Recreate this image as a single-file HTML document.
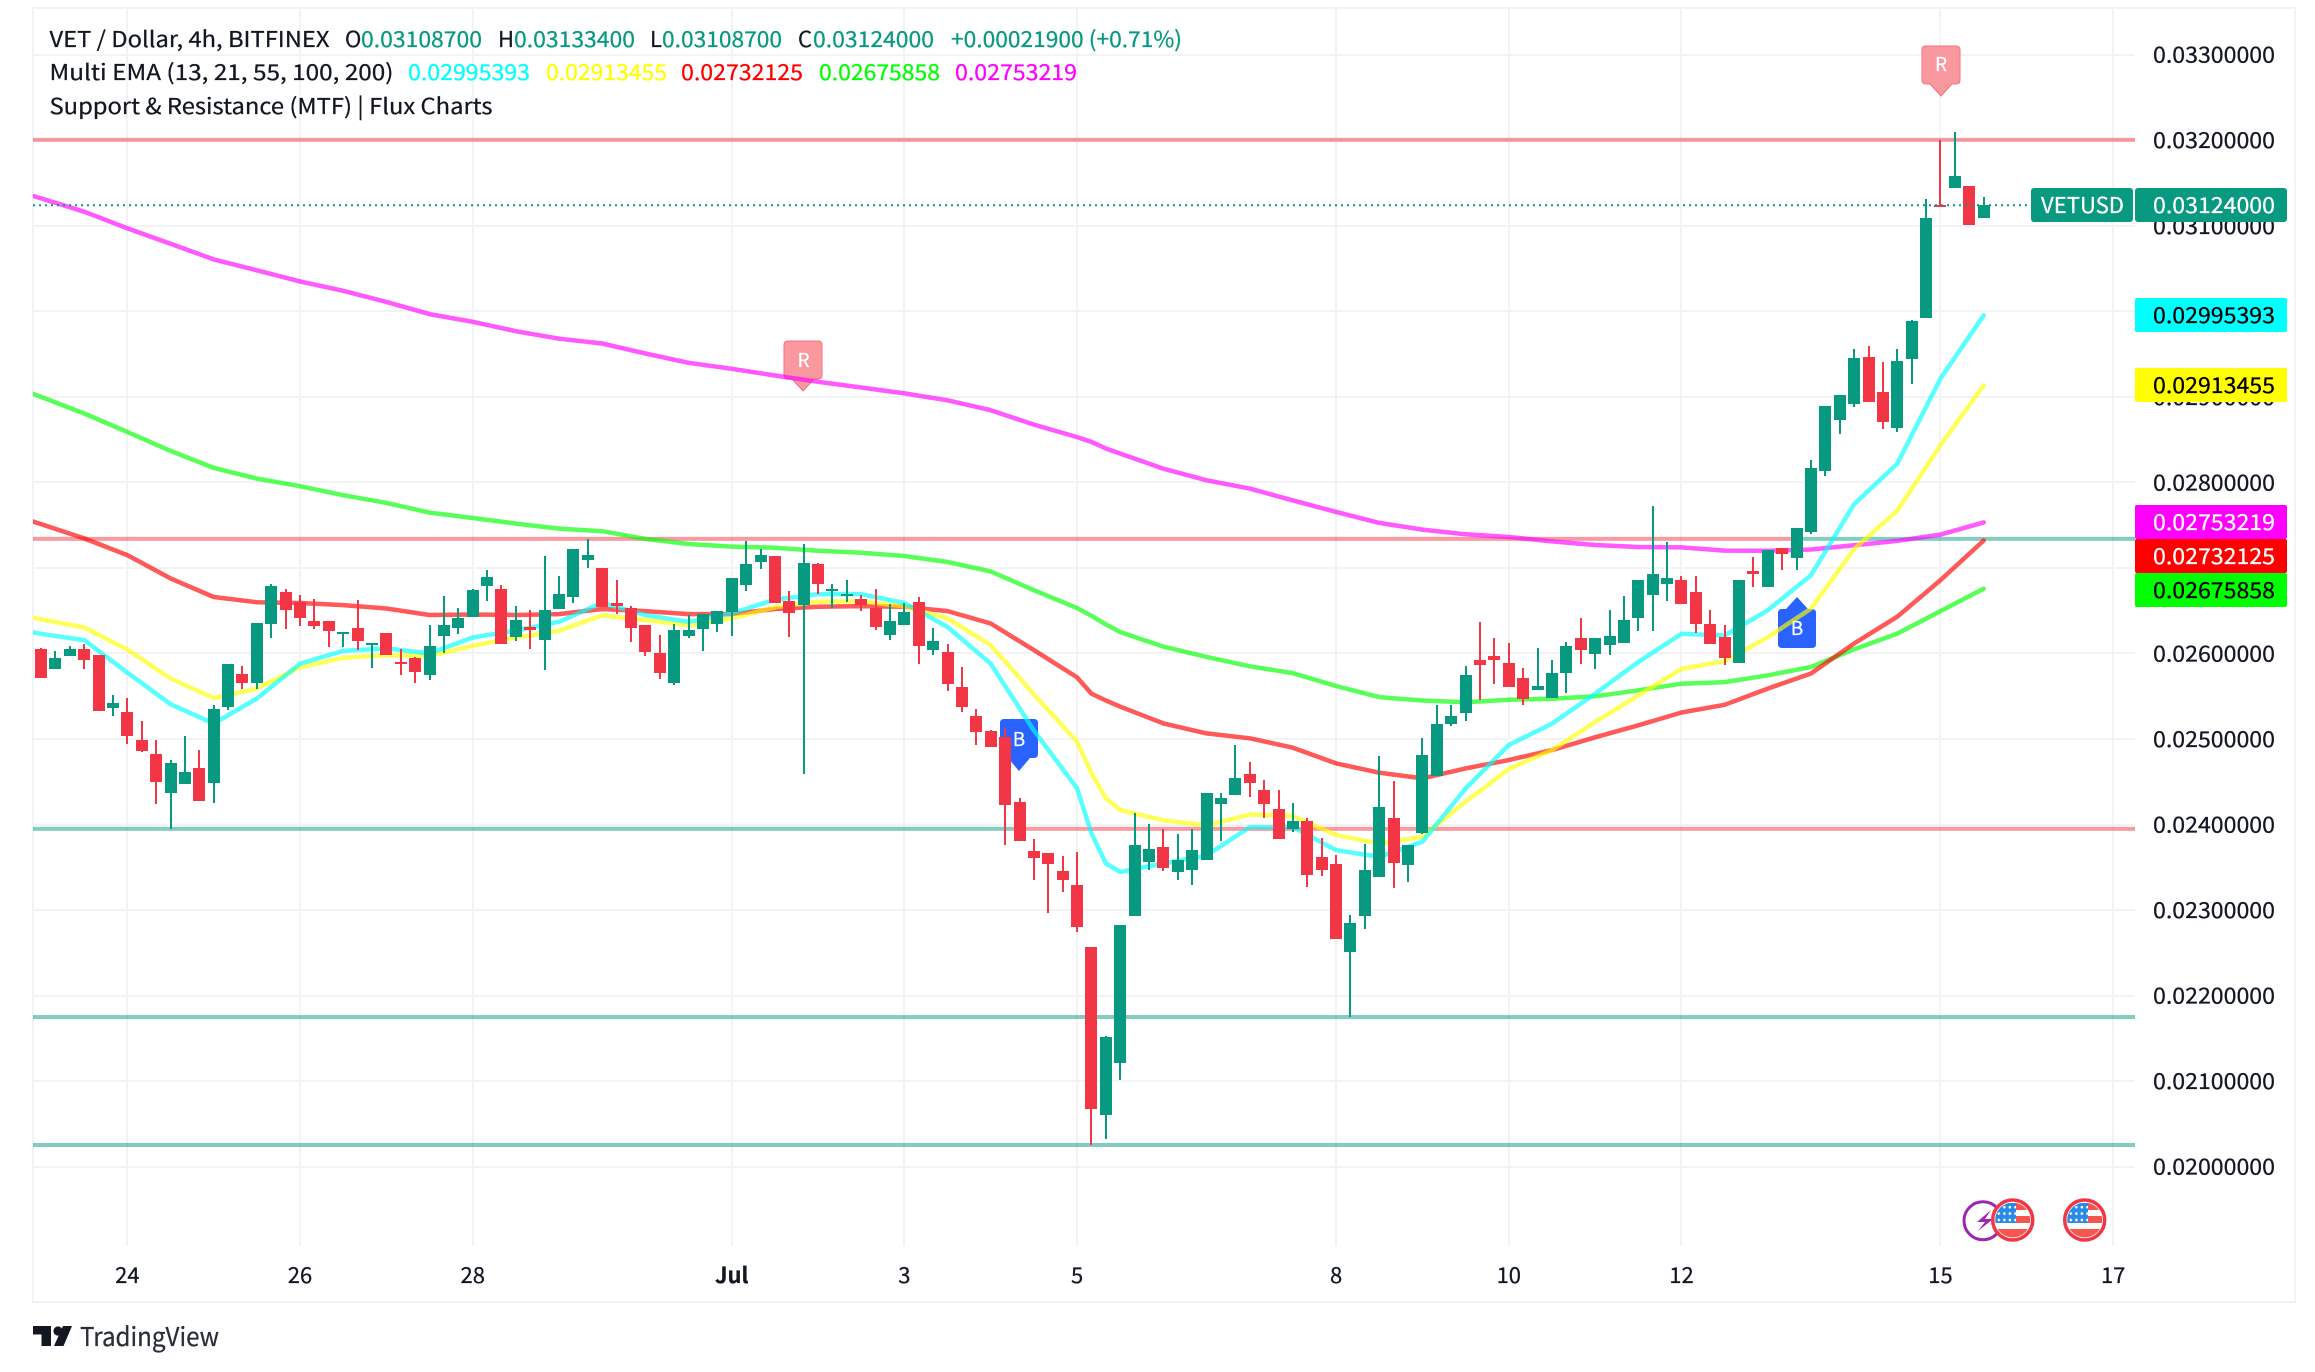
<!DOCTYPE html>
<html lang="en">
<head>
<meta charset="utf-8">
<title>VET / Dollar chart</title>
<style>
html,body{margin:0;padding:0;background:#fff;width:2315px;height:1372px;overflow:hidden}
svg{display:block}
text{font-family:"Noto Sans CJK JP","DejaVu Sans","Liberation Sans",sans-serif;font-size:22px;fill:#131722;stroke-width:.25px}
.g{fill:#089981}
</style>
</head>
<body>
<svg id="chart" xmlns="http://www.w3.org/2000/svg" width="2315" height="1372" viewBox="0 0 2315 1372">
  <rect x="33" y="8" width="2262" height="1294" fill="#fff" stroke="#f0f3fa" stroke-width="2"/>
  <g id="grid"></g>
  <g id="levels"></g>
  <g id="markers">
    <g>
      <path d="M788 341h30q4 0 4 4v30q0 4-4 4h-4l-11 12-11-12h-4q-4 0-4-4v-30q0-4 4-4z" fill="#f9989f" stroke="#f4727c" stroke-width="1"/>
      <text x="803.5" y="367" text-anchor="middle" style="fill:#fff;font-size:19px">R</text>
    </g>
    <g>
      <path d="M1926 46h30q4 0 4 4v30q0 4-4 4h-4l-11 12-11-12h-4q-4 0-4-4v-30q0-4 4-4z" fill="#f9989f" stroke="#f4727c" stroke-width="1"/>
      <text x="1941" y="71" text-anchor="middle" style="fill:#fff;font-size:19px">R</text>
    </g>
    <g>
      <path d="M1004 719h30q4 0 4 4v31q0 4-4 4h-4l-11 13-11-13h-4q-4 0-4-4v-31q0-4 4-4z" fill="#2962ff"/>
      <text x="1019" y="746" text-anchor="middle" style="fill:#fff;font-size:19px">B</text>
    </g>
    <g>
      <path d="M1797 597l11 12h4q4 0 4 4v31q0 4-4 4h-30q-4 0-4-4v-31q0-4 4-4h4z" fill="#2962ff"/>
      <text x="1797" y="635" text-anchor="middle" style="fill:#fff;font-size:19px">B</text>
    </g>
  </g>
  <g id="emas"></g>
  <g id="candles"></g>
  <line id="last-line" x1="33" x2="2031" stroke="#089981" stroke-width="2" stroke-dasharray="2 4"/>
  <g id="price-axis"></g>
  <g id="time-axis"></g>

  <g><rect x="2135" y="298" width="152" height="34" rx="2" fill="#00ffff"/><text x="2153" y="323" textLength="122" lengthAdjust="spacingAndGlyphs" style="fill:#000">0.02995393</text></g>
  <g><rect x="2135" y="368" width="152" height="34" rx="2" fill="#ffff00"/><text x="2153" y="393" textLength="122" lengthAdjust="spacingAndGlyphs" style="fill:#000">0.02913455</text></g>
  <g><rect x="2135" y="505" width="152" height="34" rx="2" fill="#ff00ff"/><text x="2153" y="530" textLength="122" lengthAdjust="spacingAndGlyphs" style="fill:#fff">0.02753219</text></g>
  <g><rect x="2135" y="539" width="152" height="34" rx="2" fill="#ff0000"/><text x="2153" y="564" textLength="122" lengthAdjust="spacingAndGlyphs" style="fill:#fff">0.02732125</text></g>
  <g><rect x="2135" y="573" width="152" height="34" rx="2" fill="#00ff00"/><text x="2153" y="598" textLength="122" lengthAdjust="spacingAndGlyphs" style="fill:#000">0.02675858</text></g>
  <g><rect x="2031" y="188" width="102" height="34" rx="3" fill="#089981"/><text x="2041" y="213" textLength="83" lengthAdjust="spacingAndGlyphs" style="fill:#fff">VETUSD</text></g>
  <g><rect x="2135" y="188" width="152" height="34" rx="3" fill="#089981"/><text x="2153" y="213" textLength="122" lengthAdjust="spacingAndGlyphs" style="fill:#fff">0.03124000</text></g>

  <g>
    <text x="49.5" y="47" textLength="280" lengthAdjust="spacingAndGlyphs">VET / Dollar, 4h, BITFINEX</text>
    <text x="345" y="47">O</text>
    <text class="g" x="361" y="47" textLength="121" lengthAdjust="spacingAndGlyphs">0.03108700</text>
    <text x="498" y="47">H</text>
    <text class="g" x="514" y="47" textLength="121" lengthAdjust="spacingAndGlyphs">0.03133400</text>
    <text x="650" y="47">L</text>
    <text class="g" x="662" y="47" textLength="120" lengthAdjust="spacingAndGlyphs">0.03108700</text>
    <text x="798" y="47">C</text>
    <text class="g" x="813" y="47" textLength="121" lengthAdjust="spacingAndGlyphs">0.03124000</text>
    <text class="g" x="951" y="47" textLength="231" lengthAdjust="spacingAndGlyphs">+0.00021900 (+0.71%)</text>
    <text x="49.5" y="80" textLength="344" lengthAdjust="spacingAndGlyphs">Multi EMA (13, 21, 55, 100, 200)</text>
    <text x="408" y="80" textLength="122" lengthAdjust="spacingAndGlyphs" style="fill:#00ffff">0.02995393</text>
    <text x="546" y="80" textLength="121" lengthAdjust="spacingAndGlyphs" style="fill:#ffff00">0.02913455</text>
    <text x="681" y="80" textLength="122" lengthAdjust="spacingAndGlyphs" style="fill:#ff0000">0.02732125</text>
    <text x="819" y="80" textLength="121" lengthAdjust="spacingAndGlyphs" style="fill:#00ff00">0.02675858</text>
    <text x="955" y="80" textLength="122" lengthAdjust="spacingAndGlyphs" style="fill:#ff00ff">0.02753219</text>
    <text x="49.5" y="114" textLength="443" lengthAdjust="spacingAndGlyphs">Support &amp; Resistance (MTF) | Flux Charts</text>
  </g>

  <defs>
    <clipPath id="flag-a"><circle cx="2012.7" cy="1220" r="17.5"/></clipPath>
    <clipPath id="flag-b"><circle cx="2084.7" cy="1220" r="17.5"/></clipPath>
    <pattern id="flag-stars" patternUnits="userSpaceOnUse" x="1996" y="1204" width="5.538" height="6.4">
      <circle cx="2.8" cy="3.2" r="1.3" fill="#fff"/>
    </pattern>
  </defs>
  <g>
    <circle cx="1983" cy="1220.7" r="19" fill="#fff" stroke="#9c27b0" stroke-width="3"/>
    <path d="M1991 1210l-14 12h8l-7 9 15-12h-8z" fill="#9c27b0"/>
  </g>
  <g>
    <circle cx="2012.7" cy="1220" r="20" fill="#fff" stroke="#f23645" stroke-width="3.5"/>
    <g clip-path="url(#flag-a)">
      <rect x="2015" y="1202" width="16" height="8" fill="#f4574f"/>
      <rect x="2015" y="1216" width="16" height="7" fill="#f4574f"/>
      <rect x="1995" y="1229" width="36" height="9" fill="#f4574f"/>
      <rect x="1995" y="1203" width="21" height="20" fill="#2a8ae8"/>
      <rect x="1995" y="1203" width="21" height="20" fill="url(#flag-stars)"/>
    </g>
  </g>
  <g>
    <circle cx="2084.7" cy="1220" r="20" fill="#fff" stroke="#f23645" stroke-width="3.5"/>
    <g clip-path="url(#flag-b)">
      <rect x="2087" y="1202" width="16" height="8" fill="#f4574f"/>
      <rect x="2087" y="1216" width="16" height="7" fill="#f4574f"/>
      <rect x="2067" y="1229" width="36" height="9" fill="#f4574f"/>
      <rect x="2067" y="1203" width="21" height="20" fill="#2a8ae8"/>
      <rect x="2067" y="1203" width="21" height="20" fill="url(#flag-stars)"/>
    </g>
  </g>

  <g>
    <path d="M33 1326h18v20h-9.5v-11.5H33z" fill="#131722"/>
    <circle cx="58" cy="1331" r="4.6" fill="#131722"/>
    <path d="M63 1326h9l-8.5 20H54z" fill="#131722"/>
    <text x="80" y="1346" textLength="139" lengthAdjust="spacingAndGlyphs" style="font-size:26px;fill:#2a2e39">TradingView</text>
  </g>
</svg>

<script>
// All prices below are in units of 0.00001 (2605 = 0.02605000).
const opens = [2605,2582,2597,2605,2598,2536.4,2531.4,2498.6,2482,2437,2447.5,2466,2448.7,2537.6,2575.8,2565.7,2634.7,2671.8,2660,2637.8,2637.8,2622.6,2629.6,2609.8,2623.8,2589.9,2594.5,2575,2620.7,2630,2643,2679,2675,2619.5,2630.8,2616,2652,2666,2709.6,2699.8,2659,2653,2633,2600,2565.7,2620.7,2629,2634.7,2648.8,2680.3,2707,2713.9,2661,2657,2704.5,2673,2667,2663.6,2653,2621.8,2633.5,2660,2604,2601.6,2560.6,2526.7,2509,2502,2426,2369,2366.6,2345.5,2329,2256.6,2060.4,2121.3,2293.3,2356.5,2373.6,2344.7,2347,2358.8,2424.3,2434.8,2459,2440.3,2418,2395,2404,2362,2353.7,2251,2293.3,2339,2407.5,2353,2390,2457,2517.5,2530.4,2592,2596.7,2588.5,2571,2557.3,2548,2577.2,2617.8,2599.4,2610,2612,2641.5,2668.4,2681.3,2685.6,2671.6,2634,2619,2589,2697,2677.8,2723,2711.7,2742,2813.5,2873,2892,2946.5,2905.6,2863.8,2944.6,2992.3,3124.5,3144,3146.4,3108.7];
const highs = [2606,2603,2608.6,2611,2598,2551,2547.7,2521,2498.6,2476,2503,2487,2539.5,2587.5,2585,2635.5,2681,2675,2668,2663.6,2637.8,2625,2662.4,2612,2623.8,2605,2595.7,2633,2667,2653,2675,2697.5,2680,2655.4,2650.7,2713.9,2690.5,2722,2733.8,2699.8,2685.8,2655.4,2633,2621.5,2634.3,2645,2646,2649.5,2688,2731.4,2722,2713.9,2673,2728,2705.7,2681,2685.8,2668,2675.3,2657.7,2659,2666,2629.6,2611,2584,2535,2510,2512.6,2431,2383,2366.6,2363,2367.8,2256.6,2152.5,2282.4,2413.4,2400.5,2394.7,2388.8,2394.7,2436.8,2436.8,2493,2473,2452,2440.3,2425,2407.5,2384,2364,2294,2377,2480,2450.8,2376,2501,2539.8,2539.8,2585,2636.5,2617.8,2612,2582.6,2606,2592,2614,2641,2617.8,2650.5,2667,2685.6,2772,2730,2690,2690,2650.5,2633,2685.6,2712.5,2720.7,2723,2746.4,2826,2889,2902,2956,2959.4,2940.7,2955.9,2989.8,3131.2,3200,3209.6,3146.4,3133.4];
const lows = [2571.5,2582,2597,2582,2533,2527,2494,2485,2424,2395,2447.5,2427.6,2425,2534,2558.7,2558.7,2618,2629,2632,2629,2607.8,2607.8,2604,2583,2598.4,2574.6,2565.7,2569,2600.8,2623,2643,2661.6,2611,2615,2605.5,2581,2652,2659.3,2700,2654.6,2646.4,2613.6,2597,2570,2563,2618,2603,2625.4,2620.7,2673.3,2699,2659.3,2619.5,2459,2669.8,2653.4,2660.5,2650,2627.7,2616,2633.5,2588,2598.4,2556.3,2531.8,2493,2490.8,2376,2381,2335.4,2296.8,2321,2274.6,2025.3,2032.4,2101.4,2293.3,2347,2346,2335.4,2329.5,2358.8,2381,2434.8,2432.5,2408,2383.4,2391.5,2327.2,2340,2266.4,2175,2278,2339,2326,2333,2389,2457,2515,2521,2545.6,2564.3,2560.8,2539.7,2557.3,2548,2553.8,2587.7,2582,2598,2612,2626.3,2626.3,2661.4,2658,2624,2611,2586.5,2589,2677.8,2677.8,2697.7,2697.7,2739.8,2807.7,2856.8,2888.4,2894.3,2862.7,2859,2915.3,2992.3,3123,3144,3101.1,3108.7];
const closes = [2571.5,2594.5,2605,2592.6,2533,2542,2503.7,2486,2450,2471.7,2462,2427.6,2535,2587.5,2565.7,2635.5,2678.8,2651,2641.7,2632.4,2626.5,2625,2614.8,2612,2598.4,2587.5,2578.6,2608.6,2633,2641.3,2674,2689.3,2611,2639,2627.7,2650.7,2669.4,2722,2715,2654.6,2655.8,2630,2602,2577,2627,2628,2646,2649.5,2688,2704.5,2715,2659.3,2647.6,2705.7,2681.5,2675.3,2669.4,2657,2631,2637.8,2648.4,2609,2614.4,2564.5,2537.6,2508.4,2491,2423,2381,2361,2354,2335.4,2280.4,2067.5,2151.3,2282.4,2376,2371.3,2349.4,2358.4,2370,2436.8,2431,2454.3,2449,2424.3,2383.4,2404,2341.3,2347,2266.4,2284.7,2346.7,2420.4,2355.3,2376,2481,2517.5,2526.5,2574.5,2586.5,2592.4,2560.8,2546.8,2561.6,2577,2608.4,2604,2617.8,2620,2638.8,2685.6,2692.6,2688,2658,2634.5,2611,2594.7,2685.6,2692.6,2720.7,2716.4,2746.4,2816.6,2889,2902,2945.3,2894.3,2870.9,2941.8,2988.6,3109,3123.4,3158,3101.1,3124];

const emaBars = [-3,0,3,6,9,12,15,18,21,24,27,30,33,36,39,42,45,48,51,54,57,60,63,66,69,72,73,74,75,78,81,84,87,90,93,96,99,102,105,108,111,114,117,120,123,126,129,132,135];
const ema13 = [2632,2623,2615.6,2577.7,2540.7,2518,2547.4,2588,2603,2605.9,2600,2618.7,2627,2637,2659.3,2644.9,2637,2646.8,2663,2669.4,2669.4,2659,2631,2588,2510,2442.3,2389.6,2354.5,2344.7,2354.5,2364,2397,2397,2370,2362.3,2380,2442.2,2493,2518,2553,2590,2623,2621,2650.5,2691.5,2774.5,2822,2921.5,2995.4];
const ema21 = [2650,2640,2630.4,2604.7,2570.8,2548,2559,2584,2595,2598,2597,2609,2618.7,2626.5,2644.5,2639,2633,2641,2654,2660.5,2661,2655,2641,2609.7,2552,2497,2459.8,2430.6,2417,2405,2399,2411.8,2410,2387.7,2378,2385.7,2426.6,2465,2487,2519.9,2551,2582,2591,2619,2652.5,2722,2767,2843.6,2913.5];
const ema55 = [2768,2751.3,2734.5,2715,2687.8,2666,2660,2659,2656.5,2652.6,2645,2645.6,2645,2646,2652,2649.5,2646,2646,2652,2654.6,2655.4,2654.6,2649.5,2635,2604,2572,2553,2545,2537.8,2518.3,2506.6,2500.8,2489.8,2471.5,2460.6,2454,2465.6,2475.4,2487.1,2502,2516,2531,2540,2559,2576.6,2611.7,2643,2685.8,2732.1];
const ema100 = [2919.5,2900,2880.5,2859,2836.8,2817,2804.5,2795.5,2785,2776,2764.7,2758.4,2751.8,2746,2743,2734,2728,2725,2723.7,2720,2717.8,2713.9,2707,2696,2674,2653,2644,2634,2625,2608,2596,2585,2577,2562,2549,2545,2543,2546,2547,2550,2557,2564.7,2566.6,2574.5,2584.2,2604.9,2623.2,2649.5,2675.9];
const ema200 = [3147.6,3132,3116.5,3097,3079,3060.7,3048,3035,3024,3011,2996.7,2987.8,2976.8,2968,2962.4,2950.7,2939.8,2932.8,2925,2917.6,2910.9,2904,2896,2884.4,2867.6,2853,2847.4,2839.6,2833.7,2816,2802.5,2792.8,2779,2765.5,2752.6,2744.8,2739.3,2736.2,2731,2726.8,2724.5,2724,2720.3,2720,2721.5,2726.6,2731.6,2739,2753.2];

// Price axis.
const priceTicks = [3300,3200,3100,3000,2900,2800,2700,2600,2500,2400,2300,2200,2100,2000];
const priceTickLabels = ["0.03300000","0.03200000","0.03100000","0.03000000","0.02900000","0.02800000","0.02700000","0.02600000","0.02500000","0.02400000","0.02300000","0.02200000","0.02100000","0.02000000"];

// Time axis.
const timeTickBars = [6,18,30,48,60,72,90,102,114,132,144];
const timeTickLabels = ["24","26","28","Jul","3","5","8","10","12","15","17"];

// Horizontal support / resistance levels: price, and the bar where the colour flips.
const levelPrices = [3200.5,2734,2395,2175,2025.4];
const levelFlipBars = [null,122,67.5,null,null];
const levelStartKinds = ["r","r","g","g","g"];
const levelEndKinds = ["r","g","r","g","g"];
const lastPrice = 3124;

const NS = "http://www.w3.org/2000/svg";
const plotLeft = 33, plotRight = 2135, plotBottom = 1246, plotTop = 9;
const UP = "#089981", DOWN = "#f23645";
function xScale(bar){ return 41 + 14.39 * bar; }
function yScale(price){ return 54.7 + (3300 - price) * 0.8554; }
function make(tag, parent){ const el = document.createElementNS(NS, tag); parent.appendChild(el); return el; }

const grid = document.getElementById("grid");
priceTicks.forEach(function(p){
  const l = make("rect", grid);
  
  
  l.setAttribute("x", plotLeft); l.setAttribute("width", plotRight - plotLeft);
  l.setAttribute("y", Math.round(yScale(p)) - 1); l.setAttribute("height", 2);
  l.setAttribute("fill", "#f3f3f4");
});
timeTickBars.forEach(function(b){
  const l = make("rect", grid);
  
  
  l.setAttribute("x", Math.round(xScale(b)) - 1); l.setAttribute("width", 2);
  l.setAttribute("y", plotTop); l.setAttribute("height", plotBottom - plotTop);
  l.setAttribute("fill", "#f3f3f4");
});

const levels = document.getElementById("levels");
function drawLevel(p, x1, x2, kind){
  const r = make("rect", levels);
  
  
  r.setAttribute("x", x1); r.setAttribute("width", x2 - x1);
  r.setAttribute("y", yScale(p) - 2); r.setAttribute("height", 4);
  r.setAttribute("fill", kind === "r" ? DOWN : UP);
  r.setAttribute("fill-opacity", "0.5");
}
levelPrices.forEach(function(p, k){
  const flip = levelFlipBars[k];
  if (flip === null) { drawLevel(p, plotLeft, plotRight, levelStartKinds[k]); }
  else {
    drawLevel(p, plotLeft, xScale(flip), levelStartKinds[k]);
    drawLevel(p, xScale(flip), plotRight, levelEndKinds[k]);
  }
});

const emaGroup = document.getElementById("emas");
const svgDefs = make("clipPath", emaGroup);
svgDefs.setAttribute("id", "plot-clip");
const clipRect = make("rect", svgDefs);
clipRect.setAttribute("x", plotLeft); clipRect.setAttribute("y", plotTop);
clipRect.setAttribute("width", plotRight - plotLeft); clipRect.setAttribute("height", plotBottom - plotTop);
function drawEma(values, color, name){
  const pts = values.map(function(v, k){
    return xScale(emaBars[k]).toFixed(1) + "," + yScale(v).toFixed(1);
  }).join(" ");
  const line = make("polyline", emaGroup);
  
  
  line.setAttribute("points", pts);
  line.setAttribute("fill", "none");
  line.setAttribute("stroke", color);
  line.setAttribute("stroke-opacity", "0.65");
  line.setAttribute("stroke-width", "4.5");
  line.setAttribute("stroke-linejoin", "round");
  line.setAttribute("stroke-linecap", "round");
  line.setAttribute("clip-path", "url(#plot-clip)");
}
drawEma(ema200, "#ff00ff", "ema200-line");
drawEma(ema100, "#00ff00", "ema100-line");
drawEma(ema55, "#ff0000", "ema55-line");
drawEma(ema21, "#ffff00", "ema21-line");
drawEma(ema13, "#00ffff", "ema13-line");

const candleGroup = document.getElementById("candles");
opens.forEach(function(o, i){
  const c = closes[i], color = c >= o ? UP : DOWN;
  const cx = Math.round(xScale(i));
  const g = make("g", candleGroup);
  
  
  const hy = Math.round(yScale(highs[i])), ly = Math.round(yScale(lows[i]));
  const wick = make("rect", g);
  wick.setAttribute("x", cx - 1); wick.setAttribute("width", 2);
  wick.setAttribute("y", hy); wick.setAttribute("height", Math.max(ly - hy, 1));
  wick.setAttribute("fill", color);
  const top = Math.round(yScale(Math.max(o, c))), bot = Math.round(yScale(Math.min(o, c)));
  const body = make("rect", g);
  body.setAttribute("x", cx - 6); body.setAttribute("width", 12);
  body.setAttribute("y", top); body.setAttribute("height", Math.max(bot - top, 2));
  body.setAttribute("fill", color);
});

const lastLine = document.getElementById("last-line");
lastLine.setAttribute("y1", yScale(lastPrice));
lastLine.setAttribute("y2", yScale(lastPrice));

const priceAxis = document.getElementById("price-axis");
priceTicks.forEach(function(p, k){
  const t = make("text", priceAxis);
  
  
  t.setAttribute("x", 2153);
  t.setAttribute("y", yScale(p) + 8);
  t.setAttribute("textLength", 122);
  t.setAttribute("lengthAdjust", "spacingAndGlyphs");
  t.textContent = priceTickLabels[k];
});

const timeAxis = document.getElementById("time-axis");
timeTickBars.forEach(function(b, k){
  const t = make("text", timeAxis);
  
  
  t.setAttribute("x", xScale(b));
  t.setAttribute("y", 1283);
  t.setAttribute("text-anchor", "middle");
  if (timeTickLabels[k] === "Jul") { t.setAttribute("font-weight", "bold"); }
  t.textContent = timeTickLabels[k];
});

// Thicken glyphs slightly, each in its own fill colour, to match the reference's text weight.
document.querySelectorAll("text").forEach(function(t){
  t.style.stroke = getComputedStyle(t).fill;
});
</script>
</body>
</html>
